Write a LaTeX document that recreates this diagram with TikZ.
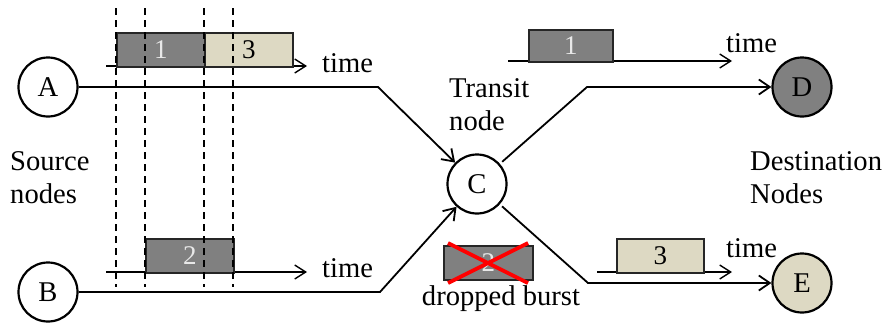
\documentclass[tikz,border=0pt]{standalone}
\usepackage{fontspec}
\setmainfont{Liberation Serif}
\usetikzlibrary{arrows.meta}
\definecolor{burstgray}{HTML}{808080}
\definecolor{burstbeige}{HTML}{DDD9C3}
\definecolor{digitlight}{HTML}{E8E8E8}
\newcommand{\bigtext}{\fontsize{28.6}{33}\selectfont}

\begin{document}
\begin{tikzpicture}[x=1pt,y=-1pt,
  station/.style={circle, draw, line width=2.2pt, minimum size=59pt,
    inner sep=0pt, font=\bigtext},
  link/.style={line width=1.8pt,
    -{Straight Barb[length=11pt,width=15pt,line width=1.8pt]}},
  timeaxis/.style={line width=1.1pt,
    -{Straight Barb[length=11pt,width=14pt,line width=1.4pt]}},
  burst/.style={draw=black!85, line width=1.6pt, rectangle, inner sep=0pt,
    anchor=north west, font=\fontsize{27}{30}\selectfont},
  darkburst/.style={burst, fill=burstgray, text=digitlight},
  lightburst/.style={burst, fill=burstbeige, text=black},
  slot/.style={dash pattern=on 7pt off 5pt, line width=1.1pt},
  lbl/.style={font=\bigtext, inner sep=0pt}
]
\useasboundingbox (0,0) rectangle (886,322);

% network nodes
\node[station, fill=white] (A) at (48,87) {A};
\node[station, fill=white] (B) at (48,292) {B};
\node[station, fill=white] (C) at (477,184) {C};
\node[station, fill=burstgray] (D) at (802,87) {D};
\node[station, fill=burstbeige] (E) at (802,283) {E};

% bends of the links
\coordinate (abend) at (378,87);
\coordinate (bbend) at (380,292);
\coordinate (dbend) at (587,87);
\coordinate (ebend) at (588,283);

\draw[link] (A) -- (abend) -- (C);
\draw[link] (B) -- (bbend) -- (C);
\draw[link, shorten <=3pt] (C) -- (dbend) -- (D);
\draw[link, shorten <=3pt] (C) -- (ebend) -- (E);

% time axes
\coordinate (ta0) at (106,66);  \coordinate (ta1) at (307,66);
\coordinate (tb0) at (106,272); \coordinate (tb1) at (307,272);
\coordinate (td0) at (508,61);  \coordinate (td1) at (732,61);
\coordinate (te0) at (597,272); \coordinate (te1) at (732,272);
\draw[timeaxis] (ta0) -- (ta1);
\draw[timeaxis] (tb0) -- (tb1);
\draw[timeaxis] (td0) -- (td1);
\draw[timeaxis] (te0) -- (te1);

% bursts
\node[darkburst, minimum width=88pt, minimum height=34pt] (b1) at (116,32) {1};
\node[lightburst, minimum width=88pt, minimum height=34pt] (b3) at (204,32) {3};
\node[darkburst, minimum width=88pt, minimum height=34pt] (b2) at (145,238) {2};
\node[darkburst, minimum width=84pt, minimum height=32pt] (d1) at (528,29) {1};
\node[lightburst, minimum width=87pt, minimum height=34pt] (e3) at (616,238) {3};
\node[darkburst, minimum width=89pt, minimum height=34pt] (x2) at (443,245) {2};

% the dropped burst is crossed out
\draw[red, line width=3.8pt] (448,243) -- (528,283);
\draw[red, line width=3.8pt] (528,243) -- (448,283);

% slot boundaries
\foreach \sx in {116,145,204,233}
  \draw[slot] (\sx,8) -- (\sx,287);

% labels
\node[lbl, anchor=base west] (ta) at (322,72) {time};
\node[lbl, anchor=base west] (tb) at (322,277) {time};
\node[lbl, anchor=base west] (td) at (726,52) {time};
\node[lbl, anchor=base west] (te) at (726,257) {time};
\node[lbl, anchor=base west] (src1) at (10,170) {Source};
\node[lbl, anchor=base west] (src2) at (10,203) {nodes};
\node[lbl, anchor=base west] (tr1) at (449,97) {Transit};
\node[lbl, anchor=base west] (tr2) at (449,130) {node};
\node[lbl, anchor=base west] (dst1) at (750,170) {Destination};
\node[lbl, anchor=base west] (dst2) at (750,203) {Nodes};
\node[lbl, anchor=base] (drop) at (501,305) {dropped burst};
\end{tikzpicture}
\end{document}
